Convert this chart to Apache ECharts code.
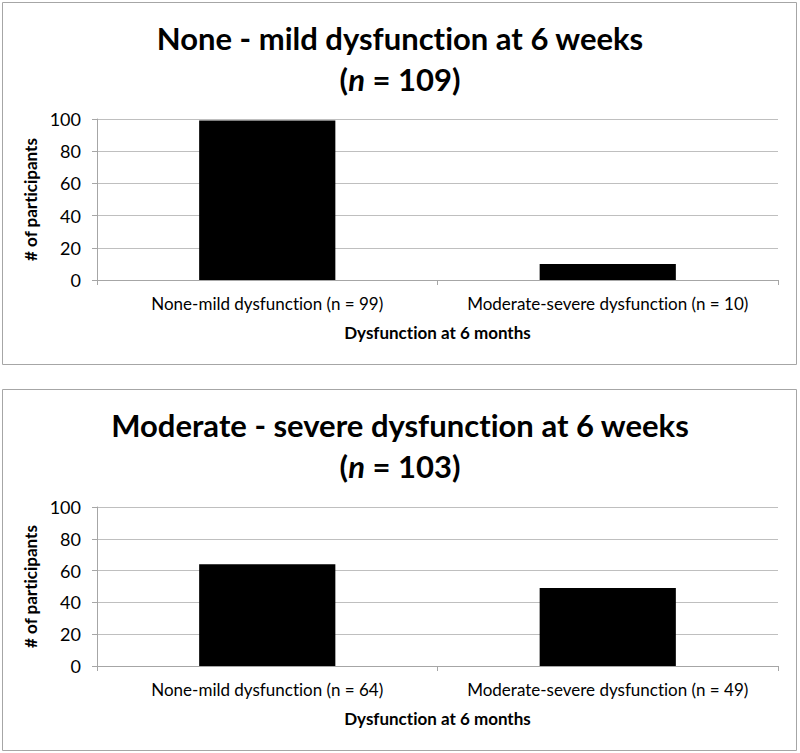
<!DOCTYPE html>
<html>
<head>
<meta charset="utf-8">
<script src="https://cdn.jsdelivr.net/npm/echarts@6/dist/echarts.min.js"></script>
<style>
html,body{margin:0;padding:0;background:#fff;}
#c{width:800px;height:753px;}
#c text, #c tspan{font-variant-ligatures:none; font-feature-settings:"liga" 0, "clig" 0;}
</style>
</head>
<body>
<div id="c"></div>
<script>
const categoriesTop = ['None-mild dysfunction (n = 99)', 'Moderate-severe dysfunction (n = 10)'];
const valuesTop = [99, 10];
const categoriesBottom = ['None-mild dysfunction (n = 64)', 'Moderate-severe dysfunction (n = 49)'];
const valuesBottom = [64, 49];
const titleTop = 'None - mild dysfunction at 6 weeks';
const nTop = 109;
const titleBottom = 'Moderate - severe dysfunction at 6 weeks';
const nBottom = 103;
const xName = 'Dysfunction at 6 months';
const yName = '# of participants';

const FONT = 'Lato, "Open Sans", sans-serif';
const chart = echarts.init(document.getElementById('c'), null, {renderer: 'svg'});

function titleObj(main, n, top) {
  return {
    left: 'center',
    top: top,
    text: '{b|' + main + '}\n{b|(}{i|n}{b| = ' + n + ')}',
    textStyle: {
      rich: {
        b: {fontFamily: FONT, fontWeight: 'bold', fontSize: 31, color: '#000', lineHeight: 41},
        i: {fontFamily: FONT, fontWeight: 'bold', fontStyle: 'italic', fontSize: 31, color: '#000', lineHeight: 41}
      }
    }
  };
}

function xAxisObj(gridIndex, cats) {
  return {
    type: 'category',
    gridIndex: gridIndex,
    data: cats,
    name: xName,
    nameLocation: 'middle',
    nameGap: 44,
    nameTextStyle: {fontFamily: FONT, fontWeight: 'bold', fontSize: 17, color: '#000'},
    axisLine: {lineStyle: {color: '#a6a6a6', width: 1}},
    axisTick: {show: true, length: 5, lineStyle: {color: '#a6a6a6'}},
    axisLabel: {fontFamily: FONT, fontSize: 17, color: '#000', margin: 15, interval: 0},
    splitLine: {show: false}
  };
}

function yAxisObj(gridIndex) {
  return {
    type: 'value',
    gridIndex: gridIndex,
    min: 0, max: 100, interval: 20,
    name: yName,
    nameLocation: 'middle',
    nameGap: 52,
    nameTextStyle: {fontFamily: FONT, fontWeight: 'bold', fontSize: 17, color: '#000'},
    axisLine: {show: true, lineStyle: {color: '#a6a6a6', width: 1}},
    axisTick: {show: true, length: 5, lineStyle: {color: '#a6a6a6'}},
    axisLabel: {fontFamily: FONT, fontSize: 18, color: '#000', margin: 16},
    splitLine: {show: true, lineStyle: {color: '#bfbfbf', width: 1}}
  };
}

const option = {
  backgroundColor: '#fff',
  animation: false,
  title: [titleObj(titleTop, nTop, 12), titleObj(titleBottom, nBottom, 399)],
  grid: [
    {left: 97, top: 119, width: 681, height: 161},
    {left: 97, top: 507, width: 681, height: 159}
  ],
  xAxis: [xAxisObj(0, categoriesTop), xAxisObj(1, categoriesBottom)],
  yAxis: [yAxisObj(0), yAxisObj(1)],
  series: [
    {type: 'bar', xAxisIndex: 0, yAxisIndex: 0, data: valuesTop, barCategoryGap: '60%', itemStyle: {color: '#000'}},
    {type: 'bar', xAxisIndex: 1, yAxisIndex: 1, data: valuesBottom, barCategoryGap: '60%', itemStyle: {color: '#000'}}
  ],
  graphic: [
    {type: 'rect', shape: {x: 2.5, y: 2.5, width: 794, height: 362}, style: {fill: null, stroke: '#a6a6a6', lineWidth: 1}, silent: true},
    {type: 'rect', shape: {x: 2.5, y: 389.5, width: 794, height: 361}, style: {fill: null, stroke: '#a6a6a6', lineWidth: 1}, silent: true}
  ]
};
chart.setOption(option);
</script>
</body>
</html>
